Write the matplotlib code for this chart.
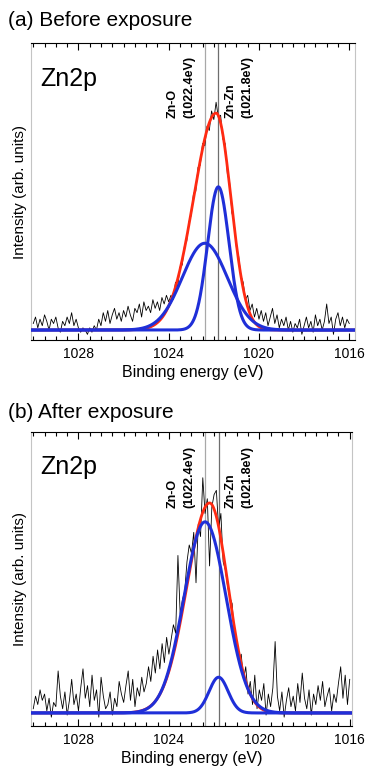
"""Zn2p XPS spectra before and after exposure."""

from __future__ import annotations

import matplotlib.pyplot as plt
import numpy as np
from matplotlib.ticker import MultipleLocator

plt.rcParams["font.family"] = ["Liberation Sans", "DejaVu Sans"]

# measured spectra, 0.1 eV steps from 1030.0 down to 1016.0 eV (baseline removed)
energy_ev = np.linspace(1030.0, 1016.0, 141)

counts_before = [
    3, 6, 1, 5, 2, 7, 4, 0, 5, 3, 6, 1, -1, 4, 2, 6, 3, 8, 2, 5, 1,
    -1, 1, 0, -2, 1, -1, 2, 0,
    5, 2, 8, 4, 9, 3, 7, 10, 5, 8, 4, 9,
    6, 11, 7, 4, 10, 8, 12, 6, 13, 9,
    11, 8, 14, 10, 13, 9, 15, 12, 16, 13,
    16, 14, 22, 20, 29, 30, 39, 41, 50, 53,
    63, 64, 75, 76, 86, 85, 94, 92, 101, 97,
    105, 98, 99, 88, 86, 72, 68, 54, 50, 38,
    34, 25, 22, 14, 16, 9, 12, 6, 10, 5,
    9, 4, 8, 2, 6, 10, 3, 7, 1, 5,
    2, 6, 0, 4, -1, 3, 1, 5, -2, 2,
    6, 1, 4, -1, 7, 2, 5, 0, 4, 12,
    3, 6, -2, 5, 8, 2, 6, 1, 5, 3,
]

counts_after = [
    2, 8, 4, 11, 6, 9, 1, 7, -2, 5, 3, 20, 8, 2, 10, -1, 6, 16, 4, 9, 1,
    12, 21, 7, 13, 3, 18, 6, 11, -2, 17,
    8, 2, 4, 10, -1, 7, 3, 15, 9, 5,
    13, 20, 6, 16, 3, 12, 8, 17, 10, 14,
    22, 15, 27, 19, 30, 21, 33, 24, 36, 28,
    35, 42, 38, 75, 47, 54, 58, 72, 80, 76,
    86, 62, 90, 84, 112, 95, 102, 70, 98, 104,
    106, 88, 95, 72, 68, 60, 55, 52, 36, 34,
    25, 28, 16, 22, 9, 15, 4, 18, 2, 11,
    6, 14, -1, 9, 3, 12, 34, 8, 1, 10,
    -2, 6, 12, 3, 8, 1, 14, 5, 19, 7,
    2, 11, -1, 9, 4, 13, 6, 15, 3, 8,
    12, 1, 9, 5, 14, 22, 7, 18, 4, 16,
]

# fitted components: (label, centre eV, height, FWHM eV)
peaks_before = [("Zn-O", 1022.4, 40.0, 2.35), ("Zn-Zn", 1021.8, 66.0, 1.12)]
peaks_after = [("Zn-O", 1022.4, 91.0, 2.19), ("Zn-Zn", 1021.8, 17.0, 0.99)]

# fitted envelope: (centre eV, height, low-energy-side sigma, high-energy-side sigma)
envelope_before = (1021.9, 100.0, 0.66, 1.0)
envelope_after = (1022.2, 100.0, 0.82, 1.0)

line_positions_ev = [1022.4, 1021.8]
line_colors = ["#a8a8a8", "#6e6e6e"]

BLUE = "#1f2fd8"
RED = "#ff2a12"


def gaussian(x, centre, height, fwhm):
    sigma = fwhm / 2.3548
    return height * np.exp(-((x - centre) ** 2) / (2 * sigma**2))


def split_gaussian(x, centre, height, sigma_low, sigma_high):
    sigma = np.where(x < centre, sigma_low, sigma_high)
    return height * np.exp(-((x - centre) ** 2) / (2 * sigma**2))


def plot_panel(ax, counts, peaks, envelope, xlim, ylim, label_y):
    fine_ev = np.linspace(1030.2, 1015.5, 1471)

    for pos, col in zip(line_positions_ev, line_colors):
        ax.axvline(pos, color=col, lw=0.9, zorder=1)

    ax.plot(energy_ev, counts, color="black", lw=0.6, zorder=2)
    ax.plot(fine_ev, split_gaussian(fine_ev, *envelope), color=RED, lw=2.0,
            zorder=3)
    for _, centre, height, fwhm in peaks:
        ax.plot(fine_ev, gaussian(fine_ev, centre, height, fwhm), color=BLUE,
                lw=2.2, zorder=4)

    ax.set_xlim(*xlim)
    ax.set_ylim(*ylim)
    ax.set_yticks([])
    ax.xaxis.set_major_locator(MultipleLocator(4))
    ax.xaxis.set_minor_locator(MultipleLocator(0.5))
    ax.tick_params(axis="x", which="both", direction="in", top=True,
                   labelsize=10, pad=5, width=0.8)
    ax.tick_params(axis="x", which="major", length=5)
    ax.tick_params(axis="x", which="minor", length=3)
    for side in ("left", "right"):
        ax.spines[side].set_color("#c4c4c4")
    for side in ("top", "bottom"):
        ax.spines[side].set_linewidth(0.8)

    ax.set_xlabel("Binding energy (eV)", fontsize=11.5, labelpad=3)
    ax.set_ylabel("Intensity (arb. units)", fontsize=11, labelpad=3)
    ax.text(0.03, 0.88, "Zn2p", transform=ax.transAxes, fontsize=18,
            ha="left", va="center")

    trans = ax.get_xaxis_transform()
    name_o, pos_o = peaks[0][0], peaks[0][1]
    name_z, pos_z = peaks[1][0], peaks[1][1]
    ax.text(pos_o + 0.42, label_y, f"{name_o}\n({pos_o:.1f}eV)", transform=trans,
            rotation=90, ha="right", va="bottom", multialignment="left",
            fontsize=9, fontweight="bold", linespacing=1.55)
    ax.text(pos_z - 0.26, label_y, f"{name_z}\n({pos_z:.1f}eV)", transform=trans,
            rotation=90, ha="left", va="bottom", multialignment="left",
            fontsize=9, fontweight="bold", linespacing=1.55)


def main() -> None:
    fig = plt.figure(figsize=(3.66, 7.67), dpi=100)
    ax_a = fig.add_axes([0.0847, 0.5567, 0.885, 0.3872])
    ax_b = fig.add_axes([0.0847, 0.0535, 0.877, 0.3833])

    plot_panel(ax_a, counts_before, peaks_before, envelope_before,
               (1030.1, 1015.75), (-4.6, 132.3), 0.747)
    plot_panel(ax_b, counts_after, peaks_after, envelope_after,
               (1030.1, 1015.9), (-6.2, 133.8), 0.741)

    fig.text(0.022, 1 - 21 / 767, "(a) Before exposure", fontsize=15,
             ha="left", va="center")
    fig.text(0.022, 1 - 412 / 767, "(b) After exposure", fontsize=15,
             ha="left", va="center")

    fig.savefig("out.png", dpi=100)


if __name__ == "__main__":
    main()
